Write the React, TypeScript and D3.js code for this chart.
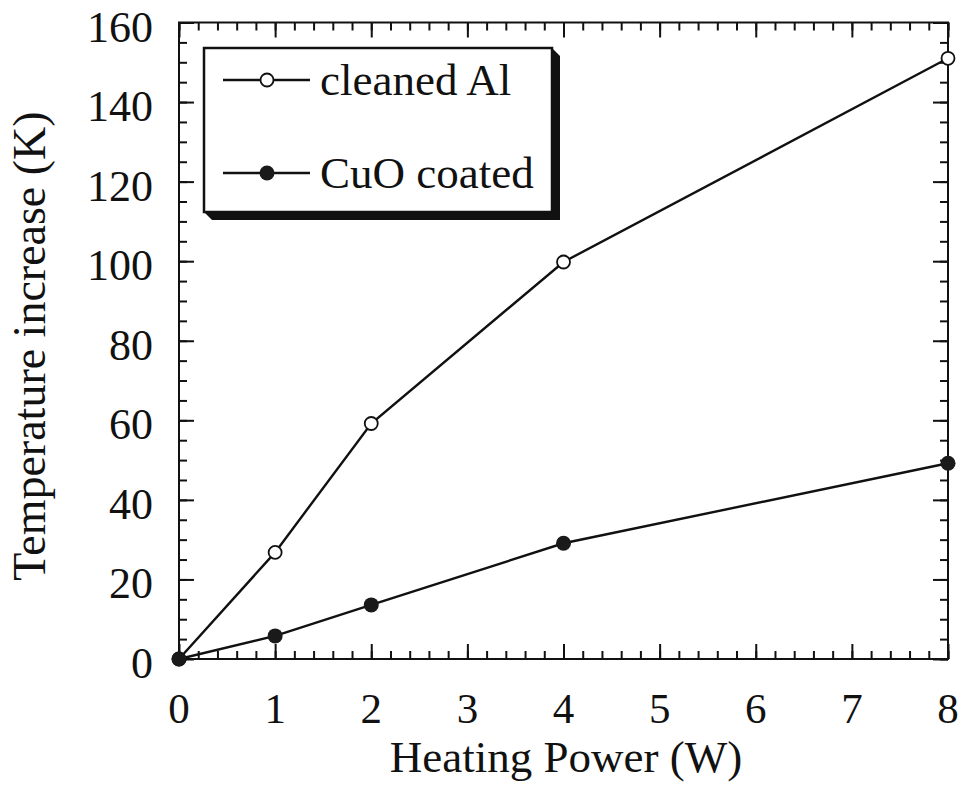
import React, { useEffect, useRef } from 'react';
import * as d3 from 'd3';

// values
const powerW = [0, 1, 2, 4, 8];
const cleanedAl = [0, 26.8, 59.2, 99.8, 151];
const cuoCoated = [0, 5.8, 13.6, 29.1, 49.2];
const xTicks = [0, 1, 2, 3, 4, 5, 6, 7, 8];
const yTicks = [0, 20, 40, 60, 80, 100, 120, 140, 160];
const legendNames = ['cleaned Al', 'CuO coated'];

const W = 966;
const H = 789;
const FONT = '"Liberation Serif", "Times New Roman", serif';

function layout() {
  return { left: 179, right: 948, top: 22.5, bottom: 659, major: 15, minor: 8 };
}

export default function App() {
  const ref = useRef<SVGSVGElement>(null);

  useEffect(() => {
    const o = layout();
    const svg = d3.select(ref.current);
    svg.selectAll('*').remove();

    const x = d3.scaleLinear().domain([0, 8]).range([o.left, o.right]);
    const y = d3.scaleLinear().domain([0, 160]).range([o.bottom, o.top]);

    const xMinor = d3.range(0, 8.001, 0.2).map((v) => +v.toFixed(1));
    const yMinor = d3.range(0, 160.001, 5);

    // ticks, all pointing inward
    const tickGroup = (axis: any, tx: number, ty: number) => {
      const g = svg.append('g').attr('transform', `translate(${tx},${ty})`).call(axis);
      g.select('.domain').remove();
      g.selectAll('line').attr('stroke', '#111').attr('stroke-width', 2);
      g.selectAll('text').remove();
    };
    tickGroup(d3.axisBottom(x).tickValues(xMinor).tickSizeInner(-o.minor).tickSizeOuter(0), 0, o.bottom);
    tickGroup(d3.axisBottom(x).tickValues(xTicks).tickSizeInner(-o.major).tickSizeOuter(0), 0, o.bottom);
    tickGroup(d3.axisTop(x).tickValues(xMinor).tickSizeInner(-o.minor).tickSizeOuter(0), 0, o.top);
    tickGroup(d3.axisTop(x).tickValues(xTicks).tickSizeInner(-o.major).tickSizeOuter(0), 0, o.top);
    tickGroup(d3.axisLeft(y).tickValues(yMinor).tickSizeInner(-o.minor).tickSizeOuter(0), o.left, 0);
    tickGroup(d3.axisLeft(y).tickValues(yTicks).tickSizeInner(-o.major).tickSizeOuter(0), o.left, 0);
    tickGroup(d3.axisRight(y).tickValues(yMinor).tickSizeInner(-o.minor).tickSizeOuter(0), o.right, 0);
    tickGroup(d3.axisRight(y).tickValues(yTicks).tickSizeInner(-o.major).tickSizeOuter(0), o.right, 0);

    svg.append('rect')
      .attr('x', o.left).attr('y', o.top)
      .attr('width', o.right - o.left).attr('height', o.bottom - o.top)
      .attr('fill', 'none').attr('stroke', '#111').attr('stroke-width', 2);

    // tick labels
    svg.append('g').selectAll('text').data(xTicks).join('text')
      .attr('x', (d) => x(d)).attr('y', o.bottom + 64)
      .attr('text-anchor', 'middle')
      .attr('font-family', FONT).attr('font-size', 43).attr('fill', '#111')
      .text((d) => d);
    svg.append('g').selectAll('text').data(yTicks).join('text')
      .attr('x', 153).attr('y', (d) => y(d) + 19)
      .attr('text-anchor', 'end')
      .attr('font-family', FONT).attr('font-size', 44).attr('fill', '#111')
      .text((d) => d);

    // axis titles
    svg.append('text')
      .text('Heating Power (W)')
      .attr('x', 566).attr('y', 772)
      .attr('text-anchor', 'middle')
      .attr('font-family', FONT).attr('font-size', 45).attr('fill', '#111');
    svg.append('text')
      .text('Temperature increase (K)')
      .attr('transform', 'translate(45, 346) rotate(-90)')
      .attr('text-anchor', 'middle')
      .attr('font-family', FONT).attr('font-size', 46).attr('fill', '#111');

    // series
    const line = d3.line<number>()
      .x((d, i) => x(powerW[i]))
      .y((d) => y(d));
    [cleanedAl, cuoCoated].forEach((s) => {
      svg.append('path')
        .datum(s)
        .attr('d', line)
        .attr('fill', 'none').attr('stroke', '#111').attr('stroke-width', 2.4);
    });
    svg.append('g').selectAll('circle').data(cleanedAl).join('circle')
      .attr('cx', (d, i) => x(powerW[i])).attr('cy', (d) => y(d)).attr('r', 6.5)
      .attr('fill', '#fff').attr('stroke', '#111').attr('stroke-width', 1.8);
    svg.append('g').selectAll('circle').data(cuoCoated).join('circle')
      .attr('cx', (d, i) => x(powerW[i])).attr('cy', (d) => y(d)).attr('r', 7.5)
      .attr('fill', '#1a1a1a');

    // legend box with extruded shadow
    const bx0 = 204, by0 = 48, bx1 = 552, by1 = 212, sh = 8;
    svg.append('path')
      .attr('d', `M${bx1},${by0} L${bx1 + sh},${by0 + sh} L${bx1 + sh},${by1 + sh} L${bx0 + sh},${by1 + sh} L${bx0},${by1} Z`)
      .attr('fill', '#111');
    svg.append('rect')
      .attr('x', bx0).attr('y', by0).attr('width', bx1 - bx0).attr('height', by1 - by0)
      .attr('fill', '#fff').attr('stroke', '#111').attr('stroke-width', 2.5);

    const rowY = [80, 173];
    legendNames.forEach((name, i) => {
      const g = svg.append('g');
      g.append('line')
        .attr('x1', 223).attr('x2', 310).attr('y1', rowY[i]).attr('y2', rowY[i])
        .attr('stroke', '#111').attr('stroke-width', 2.4);
      if (i === 0) {
        g.append('circle').attr('cx', 267).attr('cy', rowY[i]).attr('r', 6.5)
          .attr('fill', '#fff').attr('stroke', '#111').attr('stroke-width', 1.8);
      } else {
        g.append('circle').attr('cx', 267).attr('cy', rowY[i]).attr('r', 7.5)
          .attr('fill', '#1a1a1a');
      }
      g.append('text')
        .text(name)
        .attr('x', 320).attr('y', rowY[i] + 15)
        .attr('font-family', FONT).attr('font-size', 45).attr('fill', '#111');
    });
  }, []);

  return (
    <svg
      ref={ref}
      width={W}
      height={H}
      style={{ position: 'absolute', left: 0, top: 0, background: '#fff' }}
    />
  );
}
